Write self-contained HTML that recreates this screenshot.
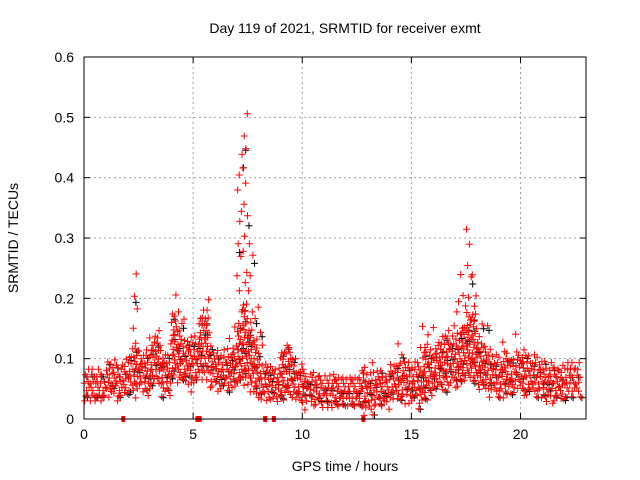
<!DOCTYPE html>
<html><head><meta charset="utf-8"><style>
body{margin:0;background:#fff;}
svg{display:block;font-family:"Liberation Sans",sans-serif;}
</style></head><body>
<svg id="chart" width="640" height="480">
<rect width="640" height="480" fill="#fff"/>
<text x="345" y="33" font-size="14" text-anchor="middle">Day 119 of 2021, SRMTID for receiver exmt</text>
<text x="345" y="471" font-size="14" text-anchor="middle">GPS time / hours</text>
<text x="18" y="238" font-size="14" text-anchor="middle" transform="rotate(-90 18 238)">SRMTID / TECUs</text>
<g id="grid"></g><g id="ticks"></g><g id="marks"></g>
<rect x="84" y="57" width="502" height="362" fill="none" stroke="#000" stroke-width="1"/>
</svg>
<script>
const xTicks=[0,5,10,15,20];
const yTicks=[0,0.1,0.2,0.3,0.4,0.5,0.6];
const binStart=0, binWidth=0.25;
const lo=[.03,.03,.03,.03,.04,.04,.03,.04,.05,.04,.05,.04,.05,.06,.04,.04,.07,.06,.06,.05,.06,.07,.07,.05,.05,.05,.05,.05,.06,.06,.05,.04,.03,.03,.03,.03,.03,.04,.03,.03,.02,.03,.02,.02,.02,.02,.02,.02,.02,.02,.02,.01,.01,.02,.02,.02,.03,.03,.03,.03,.03,.02,.03,.04,.05,.05,.05,.06,.05,.06,.07,.06,.05,.05,.04,.04,.04,.04,.04,.05,.04,.04,.04,.04,.03,.03,.03,.03,.04,.04,.04];
const mid=[.05,.05,.05,.05,.06,.06,.05,.06,.08,.09,.08,.08,.1,.11,.08,.07,.14,.12,.1,.1,.1,.14,.14,.09,.08,.08,.08,.09,.12,.16,.12,.1,.06,.06,.05,.05,.08,.09,.07,.05,.05,.04,.04,.04,.04,.04,.04,.04,.04,.04,.04,.05,.04,.05,.04,.04,.06,.06,.07,.06,.06,.06,.09,.08,.09,.1,.11,.1,.11,.12,.14,.15,.1,.09,.08,.07,.07,.08,.07,.08,.08,.07,.07,.07,.06,.06,.05,.05,.06,.06,.06];
const hi=[.08,.08,.08,.07,.1,.11,.09,.12,.12,.25,.13,.12,.14,.15,.12,.13,.22,.2,.17,.14,.14,.2,.22,.12,.12,.13,.14,.15,.45,.5,.3,.2,.15,.1,.09,.1,.13,.15,.12,.09,.09,.08,.08,.07,.07,.08,.07,.07,.07,.07,.08,.1,.1,.09,.08,.09,.11,.13,.12,.1,.1,.12,.16,.15,.15,.16,.16,.18,.2,.26,.33,.25,.18,.15,.13,.12,.13,.13,.12,.14,.13,.12,.11,.12,.1,.11,.09,.09,.09,.09,.09];
const zeroTimes=[1.8,5.2,5.3,8.3,8.7,12.8];
const X0=84,X1=586,Y0=419,Y1=57,XMAX=23,YMAX=0.6;
const sx=v=>X0+v/XMAX*(X1-X0), sy=v=>Y0-v/YMAX*(Y0-Y1);
const NS="http://www.w3.org/2000/svg";
const grid=document.getElementById('grid'),ticks=document.getElementById('ticks'),marks=document.getElementById('marks');
function mk(tag,attrs,parent){const e=document.createElementNS(NS,tag);for(const k in attrs)e.setAttribute(k,attrs[k]);parent.appendChild(e);return e;}
xTicks.forEach(t=>{const x=sx(t);
 const g=mk('line',{x1:x,x2:x,y1:Y1,y2:Y0,stroke:'#a0a0a0','stroke-dasharray':'2,3'},grid);
 
 
 mk('line',{x1:x,x2:x,y1:Y0,y2:Y0-6,stroke:'#000'},ticks);
 mk('line',{x1:x,x2:x,y1:Y1,y2:Y1+6,stroke:'#000'},ticks);
 const l=mk('text',{x:x,y:Y0+20,'font-size':14,'text-anchor':'middle'},ticks);l.textContent=t;
 
 });
yTicks.forEach(t=>{const y=sy(t);
 if(t>0&&t<YMAX){const g=mk('line',{x1:X0,x2:X1,y1:y,y2:y,stroke:'#a0a0a0','stroke-dasharray':'2,3'},grid);
 
 }
 mk('line',{x1:X0,x2:X0+6,y1:y,y2:y,stroke:'#000'},ticks);
 mk('line',{x1:X1,x2:X1-6,y1:y,y2:y,stroke:'#000'},ticks);
 const l=mk('text',{x:X0-10,y:y+5,'font-size':14,'text-anchor':'end'},ticks);l.textContent=t===0?'0':t.toFixed(1);
 
 });
let d={black:'',red:''};
function cross(x,y,c){d[c]+=`M${(x-3.5).toFixed(1)} ${y.toFixed(1)}h7M${x.toFixed(1)} ${(y-3.5).toFixed(1)}v7`;}
const offs=[0.03,0.17,0.09,0.23,0.12,0.01,0.19,0.06,0.14,0.21,0.04,0.11,0.24,0.08,0.16];
const yj=[0.000,0.004,-0.003,0.006,-0.005,0.002,-0.001,0.005,-0.004,0.003];
let k=0;
lo.forEach((l,i)=>{const t=binStart+i*binWidth;
 for(let v=l;v<=hi[i]+1e-9;v+=(v<mid[i]+0.03?0.0055:0.028)){
  const t1=t+offs[k%15], v1=Math.max(0.005,v+yj[k%10]);
  if(k%5===2) cross(sx(t1+0.07),sy(v1*0.95),'black');
  cross(sx(t1),sy(v1),'red');
  k++;
 }});
const pb=mk('path',{d:d.black,stroke:'#000','stroke-width':1,fill:'none'},marks);


const pr=mk('path',{d:d.red,stroke:'#ff0000','stroke-width':1,fill:'none'},marks);


zeroTimes.forEach(t=>{const r=mk('rect',{x:sx(t)-2,y:Y0-3,width:4,height:6,fill:'#ff0000'},marks);
 
 });
</script>
</body></html>
